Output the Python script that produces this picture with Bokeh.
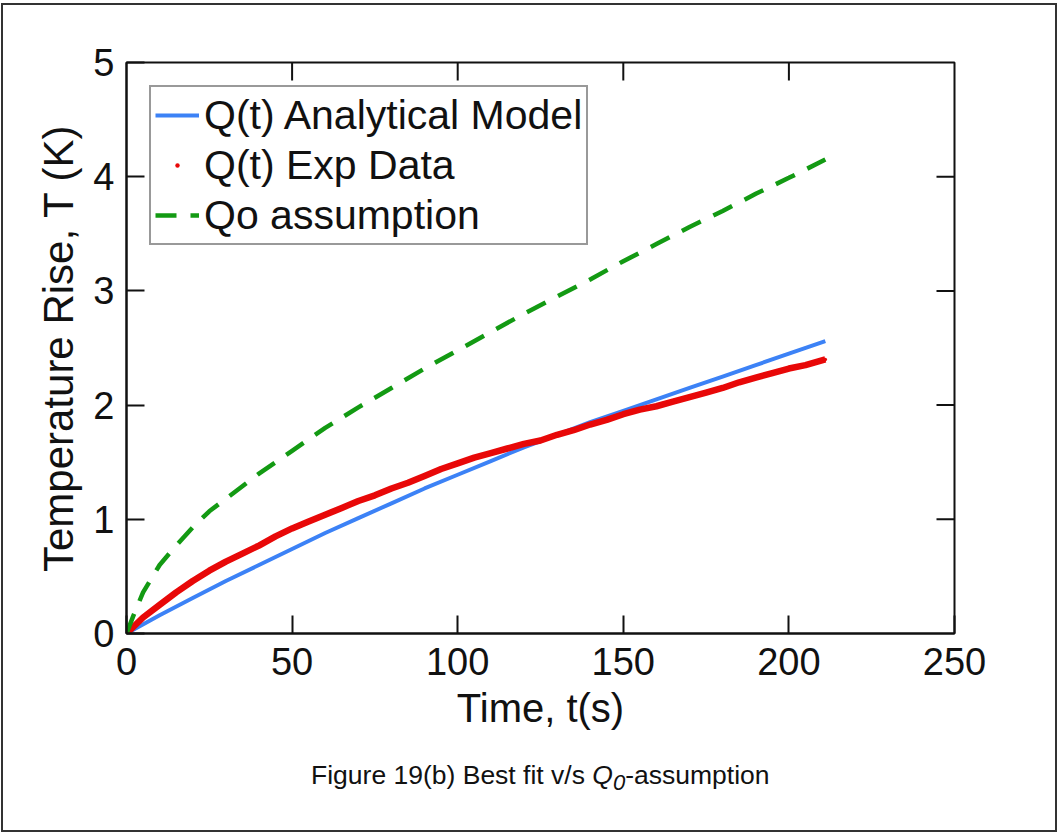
from bokeh.plotting import figure
from bokeh.layouts import column
from bokeh.models import FixedTicker, Range1d, Div
from bokeh.embed import file_html
from bokeh.resources import INLINE

# Analytical model, Q(t)
time_model = [0, 10, 20, 30, 40, 50, 60, 70, 80, 90, 100, 110, 120, 130,
              140, 150, 160, 170, 180, 190, 200, 211]
temp_model = [0.00, 0.16, 0.31, 0.46, 0.60, 0.74, 0.88, 1.01, 1.14, 1.27, 1.39,
              1.51, 1.63, 1.74, 1.85, 1.95, 2.05, 2.15, 2.25, 2.35, 2.45, 2.56]

# Experimental data, Q(t)
time_exp = [0, 5, 10, 15, 20, 25, 30, 35, 40, 45, 50, 55, 60, 65, 70, 75, 80,
            85, 90, 95, 100, 105, 110, 115, 120, 125, 130, 135, 140, 145, 150,
            155, 160, 165, 170, 175, 180, 185, 190, 195, 200, 205, 211]
temp_exp = [0.00, 0.14, 0.25, 0.36, 0.46, 0.55, 0.63, 0.70, 0.77, 0.85, 0.92,
            0.98, 1.04, 1.10, 1.16, 1.21, 1.27, 1.32, 1.38, 1.44, 1.49, 1.54,
            1.58, 1.62, 1.66, 1.69, 1.74, 1.78, 1.83, 1.87, 1.92, 1.96, 1.99,
            2.03, 2.07, 2.11, 2.15, 2.20, 2.24, 2.28, 2.32, 2.35, 2.40]

# Constant heat input, Qo
time_q0 = [0, 2, 5, 10, 15, 20, 25, 30, 40, 50, 60, 70, 80, 90, 100, 110, 120,
           130, 140, 150, 160, 170, 180, 190, 200, 211]
temp_q0 = [0.00, 0.15, 0.36, 0.60, 0.77, 0.93, 1.07, 1.18, 1.40, 1.60, 1.80,
           1.98, 2.15, 2.32, 2.48, 2.64, 2.80, 2.95, 3.10, 3.26, 3.41, 3.56,
           3.70, 3.85, 3.99, 4.15]

x_ticks = [0, 50, 100, 150, 200, 250]
y_ticks = [0, 1, 2, 3, 4, 5]
X_MAX = 250
Y_MAX = 5

FONT = "Liberation Sans"
INK = "#111111"
BLUE = "#3c82f6"
RED = "#e80808"
GREEN = "#139a13"

FRAME_W = 828   # plot box width in px
FRAME_H = 571   # plot box height in px
TICK_LEN = 18   # inward tick length in px

p = figure(width=1052, height=745, output_backend="svg", toolbar_location=None,
           x_range=Range1d(0, X_MAX), y_range=Range1d(0, Y_MAX),
           min_border_left=123, min_border_right=101,
           min_border_top=57, min_border_bottom=117,
           x_axis_label="Time, t(s)", y_axis_label="Temperature Rise, T (K)")
p.grid.visible = False
p.outline_line_color = INK
p.outline_line_width = 2
p.outline_line_alpha = 1.0
p.background_fill_color = "white"
p.border_fill_color = "white"

xa = p.xaxis[0]
ya = p.yaxis[0]
xa.ticker = FixedTicker(ticks=x_ticks)
ya.ticker = FixedTicker(ticks=y_ticks)
for ax in (xa, ya):
    ax.axis_line_width = 2
    ax.axis_line_color = INK
    ax.major_tick_in = TICK_LEN
    ax.major_tick_out = 0
    ax.major_tick_line_width = 2
    ax.major_tick_line_color = INK
    ax.minor_tick_line_color = None
    ax.major_label_text_font = FONT
    ax.major_label_text_font_size = "38px"
    ax.major_label_text_color = INK
    ax.axis_label_text_font = FONT
    ax.axis_label_text_font_style = "normal"
    ax.axis_label_text_color = INK
xa.major_label_standoff = 14
xa.axis_label_text_font_size = "40px"
xa.axis_label_standoff = 8
ya.major_label_standoff = 12
ya.axis_label_text_font_size = "42px"
ya.axis_label_standoff = 8

# mirrored inward tick marks along the top and right edges of the box
top_ticks = x_ticks[1:-1]
right_ticks = y_ticks[1:-1]
p.segment(x0=top_ticks, x1=top_ticks,
          y0=[Y_MAX] * len(top_ticks),
          y1=[Y_MAX - TICK_LEN * Y_MAX / FRAME_H] * len(top_ticks),
          line_color=INK, line_width=2)
p.segment(x0=[X_MAX] * len(right_ticks),
          x1=[X_MAX - TICK_LEN * X_MAX / FRAME_W] * len(right_ticks),
          y0=right_ticks, y1=right_ticks, line_color=INK, line_width=2)

p.line(time_model, temp_model, line_color=BLUE, line_width=4,
       legend_label="Q(t) Analytical Model")
p.line(time_exp, temp_exp, line_color=RED, line_width=6.5)
p.scatter(time_exp, temp_exp, marker="dot", size=14, line_color=RED,
          fill_color=RED, legend_label="Q(t) Exp Data")
p.line(time_q0, temp_q0, line_color=GREEN, line_width=4.5, line_dash="21 14",
       legend_label="Qo assumption")

lg = p.legend[0]
lg.location = "top_left"
lg.margin = 23
lg.padding = 4
lg.spacing = 2
lg.label_text_font = FONT
lg.label_text_font_size = "41px"
lg.label_text_color = INK
lg.label_height = 48
lg.glyph_height = 48
lg.glyph_width = 44
lg.label_standoff = 5
lg.border_line_color = "#333333"
lg.border_line_width = 2
lg.background_fill_alpha = 1.0

caption = Div(
    text=("<div style=\"font-family:'Liberation Sans'; font-size:26.5px; "
          "line-height:30px; padding-top:5px; padding-left:303px; "
          "white-space:nowrap; color:#111111\">"
          "Figure 19(b) Best fit v/s <i>Q<sub>0</sub></i>-assumption</div>"),
    width=1052, height=80)

page = column(p, caption, spacing=0, width=1052, height=825,
              sizing_mode="fixed",
              styles={"border": "2px solid #333333", "margin-left": "1px",
                      "margin-top": "3px", "background": "white",
                      "box-sizing": "content-box"})

open("out.html", "w").write(file_html(page, INLINE))
